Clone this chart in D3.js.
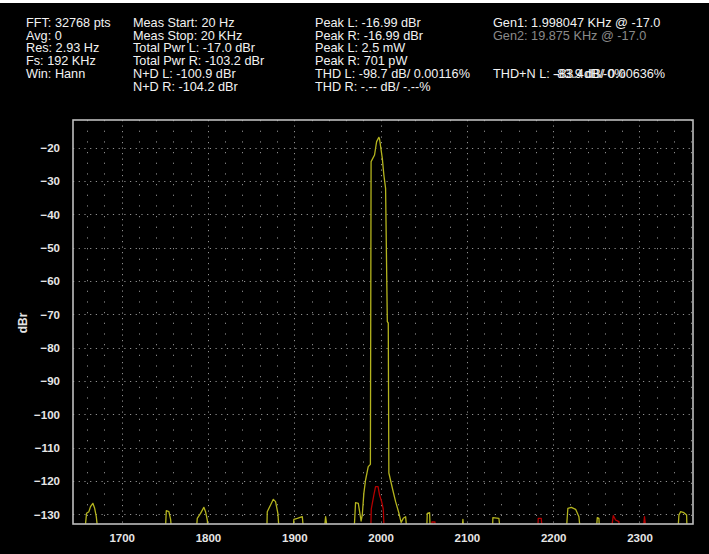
<!DOCTYPE html>
<html><head><meta charset="utf-8">
<script src="https://cdn.jsdelivr.net/npm/d3@7"></script>
<style>html,body{margin:0;padding:0;background:#000;}svg{display:block;}</style>
</head><body>
<script>
// ---------- data ----------
const xTicks = [1700, 1800, 1900, 2000, 2100, 2200, 2300];
const yTicks = [-20, -30, -40, -50, -60, -70, -80, -90, -100, -110, -120, -130];
const xDomain = [1643.6, 2362];
const yDomain = [-132.9, -11.7];

const freqL = [1644, 1656.2, 1659.3, 1662.0, 1663.9, 1666.6, 1668.7, 1670.6, 1673.6,
 1750.1, 1751.7, 1754.7, 1756.7, 1758.9,
 1785.6, 1787.6, 1791.4, 1795.2, 1797.2, 1799.2, 1801.0,
 1867.9, 1868.7, 1872.5, 1875.7, 1878.3, 1881.0, 1883.3,
 1897.7, 1899.5, 1903.5, 1909.3, 1911.9,
 1933.6, 1936.3, 1940.1,
 1968.7, 1971.0, 1974.2, 1977.4, 1978.8, 1980.6, 1982.6, 1985.7, 1988.2, 1989.0, 1993.0, 1995.4, 1998.0, 1998.8, 2002.0, 2003.8, 2005.8, 2007.8, 2008.9, 2009.6, 2013.6, 2017.4, 2021.2, 2023.8, 2026.3, 2029.0, 2031.6,
 2053.0, 2054.1, 2056.8, 2057.9,
 2093.5, 2095.4, 2097.3,
 2129.4, 2130.1, 2137.1, 2139.9,
 2214.4, 2217.0, 2221.0, 2226.0, 2229.8, 2232.6,
 2249.1, 2251.1, 2253.0, 2254.1,
 2343.8, 2345.7, 2347.6, 2351.5, 2354.6, 2355.4, 2362];
const dbL = [-138, -138, -129.7, -129.2, -127.7, -126.7, -128.2, -130.7, -138,
 -138, -128.9, -129.2, -131.5, -138,
 -138, -131.2, -129.7, -127.9, -129.2, -131.7, -138,
 -138, -129.2, -127.2, -125.5, -126.2, -129.7, -138,
 -138, -131.5, -131.2, -130.7, -138,
 -138, -130.7, -138,
 -138, -126.5, -126.7, -132.0, -130.2, -123.7, -119.7, -115.7, -115.0, -24.2, -22.2, -18.2, -16.9, -17.4, -23.2, -28.2, -32.2, -72.2, -72.6, -117.6, -122.1, -126.2, -129.6, -132.4, -131.2, -130.7, -138,
 -138, -129.7, -129.5, -138,
 -138, -131.5, -138,
 -138, -131.0, -131.2, -138,
 -138, -128.2, -127.9, -128.5, -130.7, -138,
 -138, -131.0, -131.2, -138,
 -138, -130.2, -129.2, -129.5, -130.2, -138, -138];

const freqR = [1644, 1988.4, 1989.2, 1992.2, 1994.2, 1997.1, 1998.8, 2001.2, 2003.1, 2004.6,
 2058.5, 2059.5, 2063, 2064,
 2181.6, 2182.7, 2186.2, 2188.1,
 2265.7, 2269.6, 2272.3, 2276.1, 2277,
 2303.1, 2305.8, 2308.9, 2362];
const dbR = [-138, -138, -128.4, -124.2, -121.7, -121.7, -124.2, -126.2, -128.4, -138,
 -138, -132.3, -132.3, -138,
 -138, -131.2, -131.2, -138,
 -138, -130.4, -131.7, -132.2, -138,
 -138, -130.7, -138, -138];

const infoCol1 = ["FFT: 32768 pts", "Avg: 0", "Res: 2.93 Hz", "Fs: 192 KHz", "Win: Hann"];
const infoCol2 = ["Meas Start: 20 Hz", "Meas Stop: 20 KHz", "Total Pwr L: -17.0 dBr", "Total Pwr R: -103.2 dBr", "N+D L: -100.9 dBr", "N+D R: -104.2 dBr"];
const infoCol3 = ["Peak L: -16.99 dBr", "Peak R: -16.99 dBr", "Peak L: 2.5 mW", "Peak R: 701 pW", "THD L: -98.7 dB/ 0.00116%", "THD R: -.-- dB/ -.--%"];
const gen1 = "Gen1: 1.998047 KHz @ -17.0";
const gen2 = "Gen2: 19.875 KHz @ -17.0";
const thdnLabel = "THD+N L:";
const thdnA = "-83.9 dB/ 0.00636%";
const thdnB = "-83.4dB/-0%";
const yLabel = "dBr";

// ---------- layout ----------
const W = 709, H = 554;
const plot = {l: 73, t: 120, r: 693, b: 524};
const FONT = "'Liberation Sans', Arial, sans-serif";
const HFS = 12.7;

const svg = d3.select("body").append("svg").attr("width", W).attr("height", H)
  .style("background", "#000");
svg.append("rect").attr("width", W).attr("height", H).attr("fill", "#000");
svg.append("rect").attr("width", W).attr("height", 3).attr("fill", "#fff");

const x = d3.scaleLinear().domain(xDomain).range([plot.l, plot.r]);
const y = d3.scaleLinear().domain(yDomain).range([plot.b, plot.t]);

// header text
const lh = 12.8, base = 26.7;
function txt(s, x0, y0, color) {
  return svg.append("text").attr("x", x0).attr("y", y0)
    .attr("fill", color || "#f2f2f2").attr("font-family", FONT).attr("font-size", HFS)
    .text(s);
}
function col(lines, x0, color) {
  lines.forEach((s, i) => txt(s, x0, base + i * lh, color));
}
col(infoCol1, 26, "#f2f2f2");
col(infoCol2, 133, "#f2f2f2");
col(infoCol3, 315, "#f2f2f2");
txt(gen1, 493, base, "#f2f2f2");
txt(gen2, 493, base + lh, "#8a8a8a");
txt(thdnLabel, 493, base + 4 * lh, "#f2f2f2");
txt(thdnA, 553, base + 4 * lh, "#f2f2f2");
txt(thdnB, 555, base + 4 * lh, "#f2f2f2");

// grid
const grid = svg.append("g");
const minorX = d3.range(1660, 2361, 20).filter(v => v % 100 !== 0);
grid.selectAll("line.mx").data(minorX).join("line")
  .attr("x1", d => Math.round(x(d)) + 0.5).attr("x2", d => Math.round(x(d)) + 0.5)
  .attr("y1", plot.t).attr("y2", plot.b)
  .attr("stroke", "#8a8a8a").attr("stroke-width", 1)
  .attr("stroke-dasharray", "1.2 9.47");
grid.selectAll("line.Mx").data(xTicks).join("line")
  .attr("x1", d => Math.round(x(d)) + 0.5).attr("x2", d => Math.round(x(d)) + 0.5)
  .attr("y1", plot.t).attr("y2", plot.b)
  .attr("stroke", "#909090").attr("stroke-width", 1)
  .attr("stroke-dasharray", "1.2 4.3");
grid.selectAll("line.My").data(yTicks).join("line")
  .attr("x1", plot.l).attr("x2", plot.r)
  .attr("y1", d => Math.round(y(d)) + 0.5).attr("y2", d => Math.round(y(d)) + 0.5)
  .attr("stroke", "#909090").attr("stroke-width", 1)
  .attr("stroke-dasharray", "1.2 4.5");

// traces
svg.append("clipPath").attr("id", "clip").append("rect")
  .attr("x", plot.l).attr("y", plot.t).attr("width", plot.r - plot.l).attr("height", plot.b - plot.t);
const line = d3.line().x(d => x(d[0])).y(d => y(d[1]));
const dataL = freqL.map((f, i) => [f, dbL[i]]);
const dataR = freqR.map((f, i) => [f, dbR[i]]);
const traces = svg.append("g").attr("clip-path", "url(#clip)");
traces.append("path").datum(dataL).attr("d", line).attr("fill", "none")
  .attr("stroke", "#b4b41e").attr("stroke-width", 1.3).attr("stroke-linejoin", "round");
traces.append("path").datum(dataR).attr("d", line).attr("fill", "none")
  .attr("stroke", "#b40000").attr("stroke-width", 1.3).attr("stroke-linejoin", "round");

// frame
svg.append("rect").attr("x", plot.l).attr("y", plot.t)
  .attr("width", plot.r - plot.l).attr("height", plot.b - plot.t)
  .attr("fill", "none").attr("stroke", "#bdbdbd").attr("stroke-width", 1.6);

// axes (labels only)
const xAxis = d3.axisBottom(x).tickValues(xTicks).tickSize(0).tickPadding(10).tickFormat(d3.format("d"));
const gx = svg.append("g").attr("transform", `translate(0,${plot.b})`).call(xAxis);
gx.select(".domain").remove();
gx.selectAll("text").attr("fill", "#e6e6e6").attr("font-family", FONT)
  .attr("font-size", 11.5).attr("font-weight", "bold").attr("dy", "0.71em");

const yAxis = d3.axisLeft(y).tickValues(yTicks).tickSize(0).tickPadding(13).tickFormat(d3.format("d"));
const gy = svg.append("g").attr("transform", `translate(${plot.l},0)`).call(yAxis);
gy.select(".domain").remove();
gy.selectAll("text").attr("fill", "#e6e6e6").attr("font-family", FONT)
  .attr("font-size", 11.5).attr("font-weight", "bold");

svg.append("text").attr("transform", "translate(27,323) rotate(-90)")
  .attr("text-anchor", "middle").attr("fill", "#e6e6e6").attr("font-family", FONT)
  .attr("font-size", 12).attr("font-weight", "bold").text(yLabel);
</script>
</body></html>
